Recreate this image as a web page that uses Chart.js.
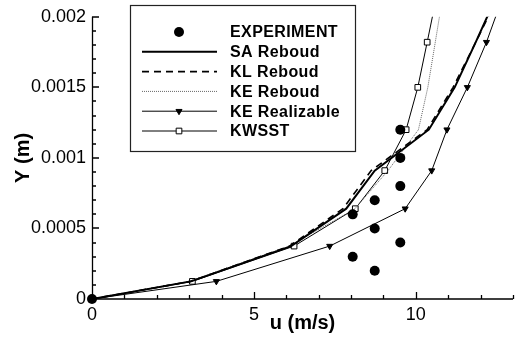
<!DOCTYPE html>
<html>
<head>
<meta charset="utf-8">
<script src="https://cdn.jsdelivr.net/npm/chart.js@4"></script>
<style>
  html, body { margin: 0; padding: 0; background: #fff; }
</style>
</head>
<body>
<canvas id="chart" width="518" height="342"></canvas>
<script>
// wall-normal levels shared by the simulation profiles (m)
const yLevels = [0, 0.000125, 0.000375, 0.00064, 0.00091, 0.0012, 0.0015, 0.00182, 0.0021];

// u (m/s) at each level
const saReboud = [0, 3.05, 6.15, 7.85, 8.73, 10.4, 11.2, 11.85, 12.4];
const klReboud = [0, 3.05, 6.1, 7.75, 8.62, 10.35, 11.15, 11.85, 12.45];
const keReboud = [0, 3.0, 6.1, 8.12, 9.14, 10.08, 10.37, 10.6, 10.8];
const keRealizable = [0, 3.84, 7.34, 9.67, 10.49, 10.96, 11.59, 12.18, 12.62];
const kwsst = [0, 3.1, 6.24, 8.13, 9.04, 9.7, 10.06, 10.35, 10.6];

// measurements
const expU = [0, 8.05, 8.05, 8.73, 8.73, 8.73, 9.52, 9.52, 9.52, 9.52];
const expY = [0, 0.0003, 0.0006, 0.0002, 0.0005, 0.0007, 0.0004, 0.0008, 0.001, 0.0012];

const xTicks = [0, 5, 10];
const yTicks = [0, 0.0005, 0.001, 0.0015, 0.002];
const yTickLabels = ['0', '0.0005', '0.001', '0.0015', '0.002'];

const FONT = '"Liberation Sans", Arial, Helvetica, sans-serif';

function profile(us) {
    return us.map((u, i) => ({ x: u, y: yLevels[i] }));
}

// inward tick marks + axis lines (Tecplot style)
const axisFrame = {
    id: 'axisFrame',
    afterDatasetsDraw(chart) {
        const { ctx, chartArea: a, scales: { x, y } } = chart;
        ctx.save();
        ctx.strokeStyle = '#000';
        ctx.lineWidth = 1.3;
        ctx.beginPath();
        ctx.moveTo(a.left + 0.5, a.top);
        ctx.lineTo(a.left + 0.5, a.bottom);
        ctx.lineTo(a.right, a.bottom);
        for (let v = 0; v <= 13; v++) {
            const px = Math.round(x.getPixelForValue(v)) + 0.5;
            const len = xTicks.includes(v) ? 7 : 4;
            ctx.moveTo(px, a.bottom);
            ctx.lineTo(px, a.bottom - len);
        }
        for (let i = 0; i <= 20; i++) {
            const py = Math.round(y.getPixelForValue(i * 0.0001));
            const len = i % 5 === 0 ? 7 : 4;
            ctx.moveTo(a.left, py);
            ctx.lineTo(a.left + len, py);
        }
        ctx.stroke();
        ctx.restore();
    }
};

const legendBox = {
    id: 'legendBox',
    afterDraw(chart) {
        const ctx = chart.ctx;
        ctx.save();
        ctx.fillStyle = '#fff';
        ctx.fillRect(130, 5, 225, 146);
        ctx.strokeStyle = '#222';
        ctx.lineWidth = 1.2;
        ctx.strokeRect(130.5, 5.5, 225, 146);
        ctx.font = 'bold 16px ' + FONT;
        ctx.textBaseline = 'middle';
        chart.data.datasets.forEach((ds, i) => {
            const yy = 32 + i * 19.8;
            ctx.strokeStyle = ds.borderColor;
            ctx.fillStyle = ds.backgroundColor;
            if (ds.showLine) {
                ctx.save();
                ctx.lineWidth = ds.borderWidth;
                ctx.setLineDash(ds.borderDash || []);
                ctx.beginPath();
                ctx.moveTo(142, yy);
                ctx.lineTo(217, yy);
                ctx.stroke();
                ctx.restore();
            }
            if (ds.pointRadius > 0) {
                ctx.lineWidth = ds.pointBorderWidth || 1;
                ctx.strokeStyle = ds.pointBorderColor || '#000';
                ctx.fillStyle = ds.pointBackgroundColor || '#000';
                Chart.helpers.drawPoint(ctx, {
                    pointStyle: ds.pointStyle,
                    rotation: ds.pointRotation || 0,
                    radius: ds.pointRadius,
                    borderWidth: ds.pointBorderWidth || 0
                }, 179, yy);
            }
            ctx.fillStyle = '#000';
            ctx.letterSpacing = '0.4px';
            ctx.fillText(ds.label, 230, yy + 1);
            ctx.letterSpacing = '0px';
        });
        ctx.restore();
    }
};

new Chart(document.getElementById('chart'), {
    type: 'scatter',
    data: {
        datasets: [
            {
                label: 'EXPERIMENT',
                data: expU.map((u, i) => ({ x: u, y: expY[i] })),
                showLine: false,
                pointStyle: 'circle',
                pointRadius: 5,
                pointBorderWidth: 0,
                pointBackgroundColor: '#000',
                backgroundColor: '#000',
                borderColor: '#000',
                clip: false
            },
            {
                label: 'SA Reboud',
                data: profile(saReboud),
                showLine: true,
                borderColor: '#000',
                backgroundColor: '#000',
                borderWidth: 2,
                pointRadius: 0
            },
            {
                label: 'KL Reboud',
                data: profile(klReboud),
                showLine: true,
                borderColor: '#000',
                backgroundColor: '#000',
                borderWidth: 1.6,
                borderDash: [7, 5],
                pointRadius: 0
            },
            {
                label: 'KE Reboud',
                data: profile(keReboud),
                showLine: true,
                borderColor: '#666',
                backgroundColor: '#666',
                borderWidth: 1,
                borderDash: [1, 1],
                pointRadius: 0
            },
            {
                label: 'KE Realizable',
                data: profile(keRealizable),
                showLine: true,
                borderColor: '#000',
                backgroundColor: '#000',
                borderWidth: 1,
                pointStyle: 'triangle',
                pointRotation: 180,
                pointRadius: 3.5,
                pointBorderWidth: 1,
                pointBorderColor: '#000',
                pointBackgroundColor: '#000'
            },
            {
                label: 'KWSST',
                data: profile(kwsst),
                showLine: true,
                borderColor: '#000',
                backgroundColor: '#000',
                borderWidth: 1,
                pointStyle: 'rect',
                pointRadius: 4,
                pointBorderWidth: 1,
                pointBorderColor: '#000',
                pointBackgroundColor: '#fff'
            }
        ]
    },
    options: {
        responsive: false,
        animation: false,
        devicePixelRatio: 1,
        layout: { padding: { top: 15, left: 0, right: 0, bottom: 0 } },
        elements: { line: { tension: 0 } },
        plugins: {
            legend: { display: false },
            tooltip: { enabled: false }
        },
        scales: {
            x: {
                type: 'linear',
                min: 0,
                max: 13,
                afterBuildTicks: s => { s.ticks = xTicks.map(v => ({ value: v })); },
                afterFit: s => { s.height = 43; },
                grid: { display: false, drawTicks: false },
                border: { display: false },
                ticks: {
                    color: '#000',
                    font: { family: FONT, size: 18 },
                    padding: 5,
                    maxRotation: 0,
                    autoSkip: false
                },
                title: {
                    display: true,
                    text: 'u (m/s)',
                    color: '#000',
                    font: { family: FONT, size: 20, weight: 'bold' },
                    padding: { top: 0, bottom: 7 }
                }
            },
            y: {
                type: 'linear',
                min: 0,
                max: 0.002,
                afterBuildTicks: s => { s.ticks = yTicks.map(v => ({ value: v })); },
                afterFit: s => { s.width = 92; },
                grid: { display: false, drawTicks: false },
                border: { display: false },
                ticks: {
                    color: '#000',
                    font: { family: FONT, size: 18 },
                    padding: 6,
                    callback: (v, i) => yTickLabels[i]
                },
                title: {
                    display: true,
                    text: 'Y (m)',
                    color: '#000',
                    font: { family: FONT, size: 20, weight: 'bold' },
                    padding: { top: 11, bottom: 0 }
                }
            }
        }
    },
    plugins: [axisFrame, legendBox]
});
</script>
</body>
</html>
